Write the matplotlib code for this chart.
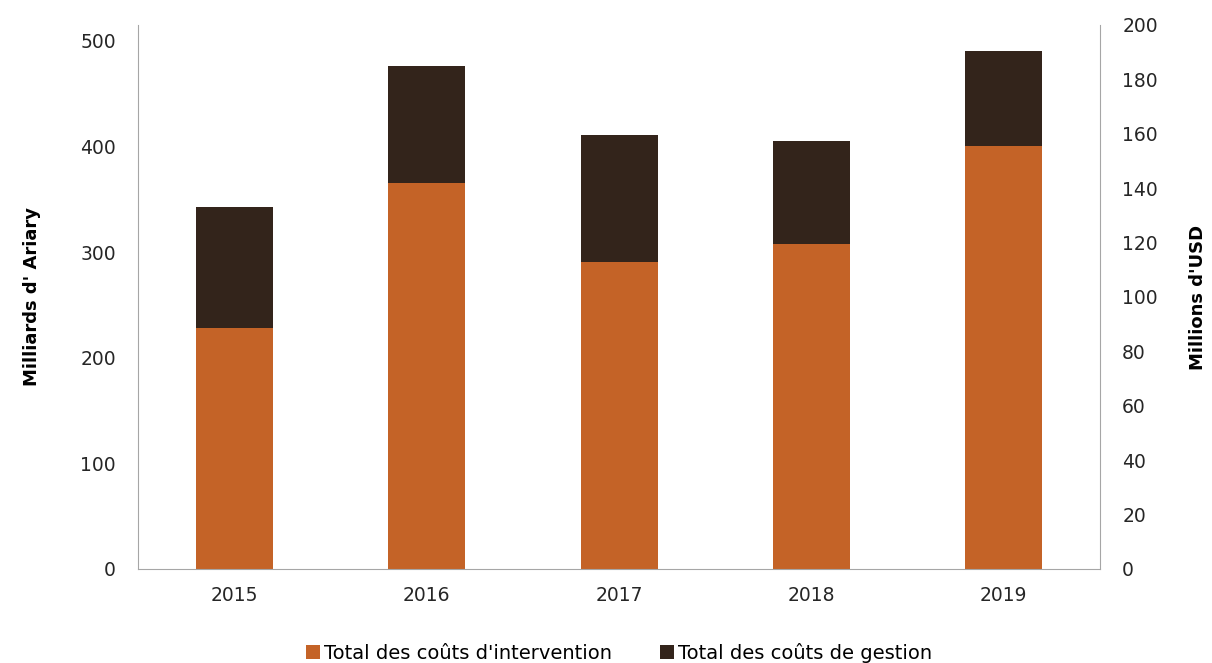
import matplotlib
matplotlib.use("Agg")
import matplotlib.pyplot as plt

annees = ["2015", "2016", "2017", "2018", "2019"]
intervention = [228, 365, 291, 308, 400]
gestion = [115, 111, 120, 97, 90]

orange = "#C46327"
brun = "#33241B"
gris = "#A6A6A6"

plt.rcParams["font.family"] = ["DejaVu Sans"]

fig = plt.figure(figsize=(12.12, 6.63), dpi=100)
ax = fig.add_axes([0.1139, 0.1418, 0.7937, 0.8205])

x = range(len(annees))
ax.bar(x, intervention, width=0.4, color=orange, label="Total des coûts d'intervention")
ax.bar(x, gestion, width=0.4, bottom=intervention, color=brun, label="Total des coûts de gestion")

ax.set_xlim(-0.5, 4.5)
ax.set_ylim(0, 515)
ax.set_yticks([0, 100, 200, 300, 400, 500])
ax.set_xticks(list(x))
ax.set_xticklabels(annees)
ax.set_ylabel("Milliards d' Ariary", fontsize=13, fontweight="bold", labelpad=28)

ax2 = ax.twinx()
ax2.set_ylim(0, 200)
ax2.set_yticks(range(0, 201, 20))
ax2.set_ylabel("Millions d'USD", fontsize=13, fontweight="bold", labelpad=22)

for a in (ax, ax2):
    for s in a.spines.values():
        s.set_visible(False)
    a.tick_params(length=0, labelsize=13.5, colors="#262626", pad=12)
ax.spines["left"].set_visible(True)
ax.spines["left"].set_color(gris)
ax.spines["bottom"].set_visible(True)
ax.spines["bottom"].set_color(gris)
ax2.spines["right"].set_visible(True)
ax2.spines["right"].set_color(gris)
ax.tick_params(axis="y", pad=16)
ax2.tick_params(axis="y", pad=16)
ax2.yaxis.label.set_rotation(90)

ax.legend(loc="lower center", bbox_to_anchor=(0.5, -0.205), ncol=2, frameon=False,
          fontsize=14, handlelength=0.7, handleheight=0.7, handletextpad=0.2, columnspacing=2.5)

plt.savefig("out.png", dpi=100)
